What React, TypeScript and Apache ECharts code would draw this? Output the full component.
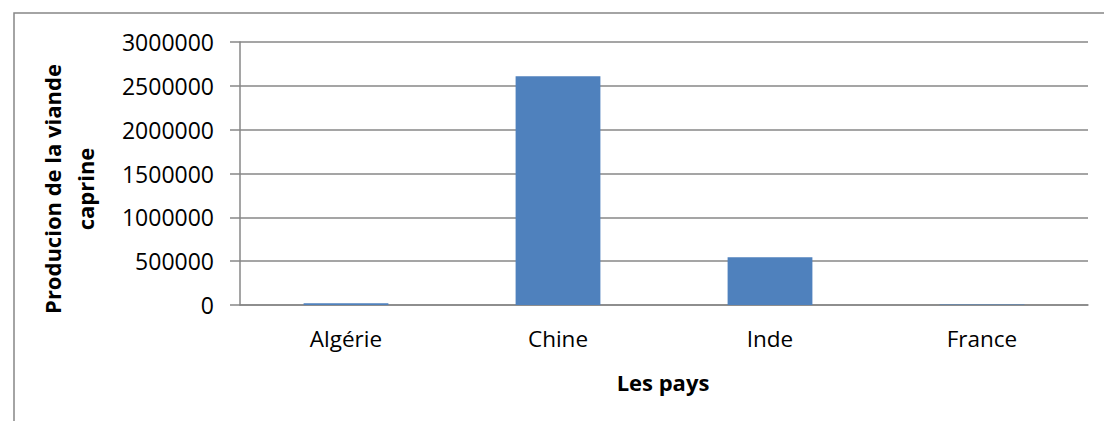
import React, { useEffect, useRef } from "react";
import * as echarts from "echarts";

const categories = ["Algérie", "Chine", "Inde", "France"];
const production = [19500, 2610000, 546000, 5000];
const yMin = 0;
const yMax = 3000000;
const yStep = 500000;
const yTitleLines = ["Producion de la viande", "caprine"];
const xTitle = "Les pays";

const FONT = "'Open Sans', 'Noto Sans', sans-serif";

export default function App() {
  const ref = useRef<HTMLDivElement>(null);
  useEffect(() => {
    if (!ref.current) return;
    const chart = echarts.init(ref.current, undefined, { renderer: "svg" });
    chart.setOption({
      animation: false,
      backgroundColor: "#ffffff",
      grid: { left: 240, right: 16, top: 42, bottom: 116, containLabel: false },
      xAxis: {
        type: "category",
        data: categories,
        axisLine: { show: true, lineStyle: { color: "#878787", width: 1.5 } },
        axisTick: { show: false },
        axisLabel: { color: "#000", fontFamily: FONT, fontSize: 22.5, margin: 22 },
        splitLine: { show: false },
      },
      yAxis: {
        type: "value",
        min: yMin,
        max: yMax,
        interval: yStep,
        axisLine: { show: true, lineStyle: { color: "#878787", width: 1.5 } },
        axisTick: { show: true, inside: false, length: 10, lineStyle: { color: "#878787", width: 1.5 } },
        axisLabel: {
          color: "#000",
          fontFamily: FONT,
          fontSize: 23,
          margin: 26,
          formatter: (v: number) => String(v),
        },
        splitLine: { show: true, lineStyle: { color: "#878787", width: 1.5 } },
      },
      series: [
        {
          type: "bar",
          data: production,
          barWidth: "40%",
          itemStyle: { color: "#4F81BD" },
        },
      ],
      graphic: [
        {
          type: "rect",
          shape: { x: 14, y: 13, width: 1200, height: 600 },
          style: { fill: "none", stroke: "#878787", lineWidth: 1.5 },
          silent: true,
          z: -1,
        },
        {
          type: "text",
          x: 68,
          y: 189,
          rotation: Math.PI / 2,
          style: {
            text: yTitleLines.join("\n"),
            fontFamily: FONT,
            fontSize: 22,
            fontWeight: "bold",
            fill: "#000",
            align: "center",
            verticalAlign: "middle",
            lineHeight: 33,
          },
        },
        {
          type: "text",
          x: 663,
          y: 382,
          style: {
            text: xTitle,
            fontFamily: FONT,
            fontSize: 22,
            fontWeight: "bold",
            fill: "#000",
            align: "center",
            verticalAlign: "middle",
          },
        },
      ],
    });
    return () => chart.dispose();
  }, []);
  return <div ref={ref} style={{ width: 1104, height: 421, position: "absolute", left: 0, top: 0 }} />;
}
